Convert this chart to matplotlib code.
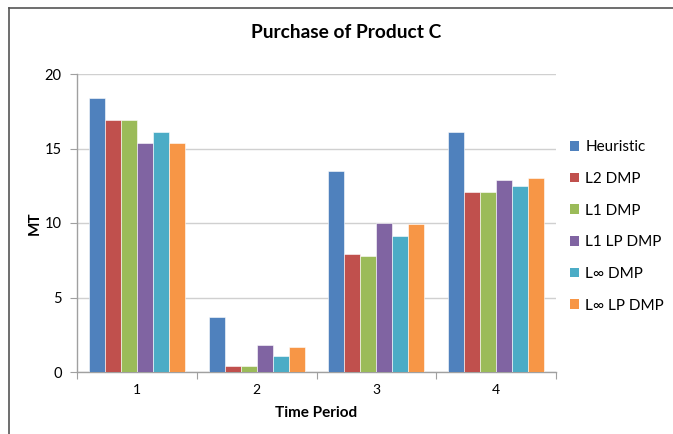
import numpy as np
import matplotlib.pyplot as plt
from matplotlib.patches import Patch
from matplotlib.lines import Line2D

plt.rcParams['font.family'] = ['Lato', 'DejaVu Sans']

periods = ['1', '2', '3', '4']
series = ['Heuristic', 'L2 DMP', 'L1 DMP', 'L1 LP DMP', 'L∞ DMP', 'L∞ LP DMP']
heuristic = [18.4, 3.7, 13.5, 16.1]
l2_dmp = [16.9, 0.4, 7.9, 12.1]
l1_dmp = [16.9, 0.4, 7.8, 12.1]
l1_lp_dmp = [15.4, 1.8, 10.0, 12.9]
linf_dmp = [16.1, 1.1, 9.1, 12.5]
linf_lp_dmp = [15.4, 1.7, 9.9, 13.0]
colors = ['#4F81BD', '#C0504D', '#9BBB59', '#8064A2', '#4BACC6', '#F79646']

values = [heuristic, l2_dmp, l1_dmp, l1_lp_dmp, linf_dmp, linf_lp_dmp]

fig = plt.figure(figsize=(6.73, 4.34), dpi=100)
W, H = 673, 434
ax = fig.add_axes([77 / W, (H - 372) / H, (556 - 77) / W, (372 - 74) / H])

# category slots of width 1, six bars plus 1.5 bar widths of gap
bw = 1 / 7.5
x = np.arange(len(periods))
for i, (name, vals, c) in enumerate(zip(series, values, colors)):
    offs = -0.5 + 0.75 * bw + i * bw
    ax.bar(x + offs, vals, width=bw, align='edge', color=c,
           edgecolor='white', linewidth=0.4, label=name, zorder=3)

ax.set_xlim(-0.5, len(periods) - 0.5)
ax.set_ylim(0, 20)
ax.set_yticks([0, 5, 10, 15, 20])
ax.yaxis.grid(True, color='#D0D0D0', linewidth=1.0, zorder=0)

# ticks on category boundaries, labels at centers
ax.set_xticks(np.arange(-0.5, len(periods)), minor=False)
ax.set_xticklabels([''] * (len(periods) + 1))
ax.set_xticks(x, minor=True)
ax.set_xticklabels(periods, minor=True)
ax.tick_params(axis='x', which='major', length=5, color='#A0A0A0', direction='out')
ax.tick_params(axis='x', which='minor', length=0, pad=9, labelsize=10)
ax.tick_params(axis='y', length=5, color='#A0A0A0', direction='out', labelsize=10.5, pad=6)

for s in ['top', 'right']:
    ax.spines[s].set_visible(False)
for s in ['left', 'bottom']:
    ax.spines[s].set_color('#A0A0A0')
    ax.spines[s].set_linewidth(1.0)

ax.set_xlabel('Time Period', fontsize=11, fontweight='bold', labelpad=7)
ax.set_ylabel('MT', fontsize=11, fontweight='bold', labelpad=2)
fig.text(346 / W, 1 - 33 / H, 'Purchase of Product C', ha='center', va='center',
         fontsize=13.8, fontweight='bold')

handles = [Patch(facecolor=c, edgecolor='none') for c in colors]
fig.legend(handles, series, loc='upper left', bbox_to_anchor=(564 / W, 1 - 134 / H),
           frameon=False, fontsize=11, handlelength=0.6, handleheight=0.6,
           handletextpad=0.4, labelspacing=1.16, borderaxespad=0)

# outer chart frame (top and left edges)
fig.add_artist(Line2D([9 / W, 1], [1 - 8 / H, 1 - 8 / H], color='#555555', linewidth=1.2,
                      transform=fig.transFigure))
fig.add_artist(Line2D([9 / W, 9 / W], [0, 1 - 8 / H], color='#555555', linewidth=1.2,
                      transform=fig.transFigure))

fig.savefig('out.png', dpi=100)
